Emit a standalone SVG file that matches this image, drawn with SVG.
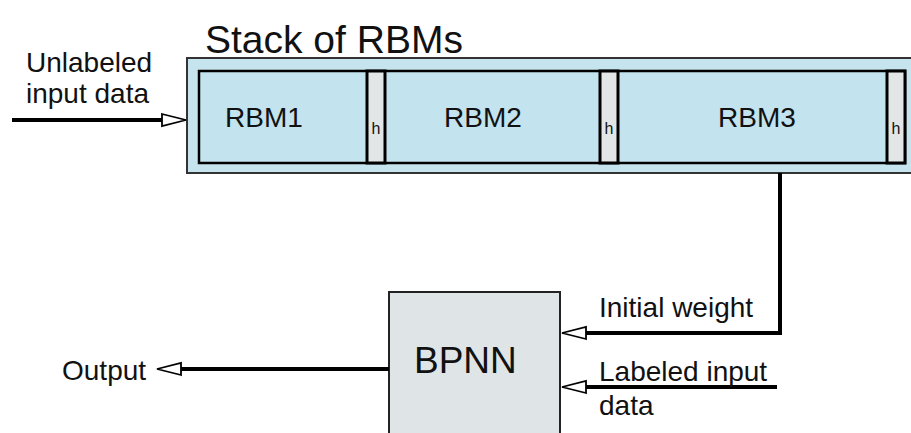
<svg xmlns="http://www.w3.org/2000/svg" width="911" height="433" viewBox="0 0 911 433">
  <style>
    text { font-family: "Liberation Sans", Arial, sans-serif; fill: #111; }
    .lbl { font-size: 28px; }
    .rbm { font-size: 28px; }
    .h { font-size: 16px; text-anchor: middle; }
    .title { font-size: 39px; }
    .big { font-size: 37px; }
    .wire { fill: none; stroke: #000; stroke-width: 4; marker-end: url(#open); }
    .stack { fill: #c6e4ee; stroke: #333; stroke-width: 2; }
    .layer { fill: #c3e3ee; stroke: #000; stroke-width: 2.5; }
    .hid { fill: #e2e6e6; stroke: #000; stroke-width: 3; }
    .net { fill: #dfe5e6; stroke: #222; stroke-width: 2; }
  </style>
  <defs>
    <marker id="open" markerUnits="userSpaceOnUse" markerWidth="28" markerHeight="16" refX="1" refY="7" orient="auto" viewBox="-1 0 28 14">
      <path d="M0,1 L24,7 L0,13 z" fill="#fff" stroke="#000" stroke-width="1.8" stroke-linejoin="miter"/>
    </marker>
  </defs>

  <g id="title">
    <text class="title" x="205" y="53">Stack of RBMs</text>
  </g>

  <g id="stack">
    <rect class="stack" x="187" y="58" width="726" height="115"/>
    <rect class="layer" x="199" y="71" width="706" height="92"/>
  </g>

  <g id="rbm1">
    <text class="rbm" x="225" y="127">RBM1</text>
  </g>
  <g id="h1">
    <rect class="hid" x="367" y="71" width="18" height="92"/>
    <text class="h" x="376" y="134">h</text>
  </g>
  <g id="rbm2">
    <text class="rbm" x="444" y="127">RBM2</text>
  </g>
  <g id="h2">
    <rect class="hid" x="600" y="71" width="18" height="92"/>
    <text class="h" x="609" y="134">h</text>
  </g>
  <g id="rbm3">
    <text class="rbm" x="718" y="127">RBM3</text>
  </g>
  <g id="h3">
    <rect class="hid" x="887" y="71" width="18" height="92"/>
    <text class="h" x="896" y="134">h</text>
  </g>

  <g id="bpnn">
    <rect class="net" x="389" y="292" width="171" height="150"/>
    <text class="big" x="414" y="373">BPNN</text>
  </g>

  <g id="connectors">
    <path class="wire" d="M12,120 H163"/>
    <path class="wire" d="M780,173 V333 H585"/>
    <path class="wire" d="M777,387 H585"/>
    <path class="wire" d="M389,369 H180"/>
  </g>

  <g id="labels">
    <text class="lbl" x="26" y="72">Unlabeled</text>
    <text class="lbl" x="26" y="103">input data</text>
    <text class="lbl" x="599" y="317">Initial weight</text>
    <text class="lbl" x="599" y="381">Labeled input</text>
    <text class="lbl" x="599" y="415">data</text>
    <text class="lbl" x="62" y="380">Output</text>
  </g>
</svg>
